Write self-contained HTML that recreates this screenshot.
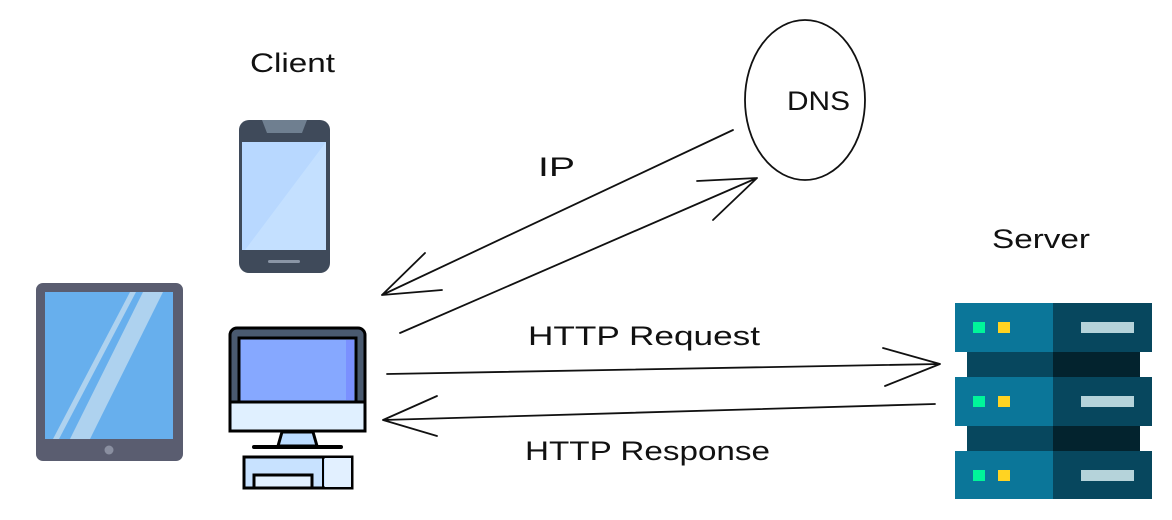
<!DOCTYPE html>
<html><head><meta charset="utf-8"><style>
html,body{margin:0;padding:0;background:#fff;}
svg{display:block}
text{font-family:"Liberation Sans",sans-serif;fill:#111;font-size:27px;}
</style></head><body>
<svg width="1172" height="520" viewBox="0 0 1172 520" xmlns="http://www.w3.org/2000/svg">
<rect width="1172" height="520" fill="#fff"/>
<text x="250" y="72" textLength="85" lengthAdjust="spacingAndGlyphs">Client</text>
<text x="787" y="110" textLength="63" lengthAdjust="spacingAndGlyphs">DNS</text>
<text x="538" y="176" textLength="37" lengthAdjust="spacingAndGlyphs">IP</text>
<text x="992" y="248" textLength="98" lengthAdjust="spacingAndGlyphs">Server</text>
<text x="528" y="345" textLength="232" lengthAdjust="spacingAndGlyphs">HTTP Request</text>
<text x="525" y="460" textLength="245" lengthAdjust="spacingAndGlyphs">HTTP Response</text>
<ellipse cx="805" cy="100" rx="60" ry="80" fill="none" stroke="#111" stroke-width="1.8"/>
<g stroke="#111" stroke-width="1.8" fill="none" stroke-linecap="round">
<path d="M733 130 L382 295 M382 295 L425 253 M382 295 L442 290"/>
<path d="M400 333 L757 178 M757 178 L697 181 M757 178 L713 220"/>
<path d="M387 374 L940 364 M940 364 L883 348 M940 364 L885 386"/>
<path d="M935 404 L383 420 M383 420 L437 396 M383 420 L437 436"/>
</g>
<rect x="36" y="283" width="147" height="178" rx="7" fill="#5a5d70"/>
<rect x="45" y="292" width="128" height="147" fill="#67afed"/>
<polygon points="130,292 136,292 59,439 53,439" fill="#aed2ef"/>
<polygon points="143,292 163,292 90,439 70,439" fill="#aed2ef"/>
<circle cx="109" cy="450" r="4.5" fill="#8a8fa0"/>
<rect x="239" y="120" width="91" height="153" rx="10" fill="#3f4a5a"/>
<polygon points="262,120 307,120 302,133 267,133" fill="#6f7f90"/>
<rect x="242" y="142" width="84" height="108" fill="#b8d8ff"/>
<polygon points="326,142 326,250 245,250" fill="#c4e0ff"/>
<rect x="268" y="260" width="32" height="3" rx="1.5" fill="#8a95a5"/>
<rect x="230" y="328" width="135" height="103" rx="7" fill="#4a5a70" stroke="#000" stroke-width="3"/>
<rect x="230" y="402" width="135" height="29" fill="#e0f0ff" stroke="#000" stroke-width="3"/>
<rect x="239" y="338" width="117" height="64" fill="#86a8ff" stroke="#000" stroke-width="3"/>
<rect x="346" y="340" width="8" height="60" fill="#7a90ff"/>
<polygon points="282,432 313,432 317,446 278,446" fill="#bcdcff" stroke="#000" stroke-width="3"/>
<line x1="254" y1="447" x2="341" y2="447" stroke="#000" stroke-width="4" stroke-linecap="round"/>
<rect x="244" y="457" width="108" height="31" fill="#c8e2ff" stroke="#000" stroke-width="3"/>
<rect x="325" y="458" width="26" height="29" fill="#e2f0ff"/>
<line x1="323" y1="457" x2="323" y2="488" stroke="#000" stroke-width="2"/>
<rect x="254" y="475" width="58" height="13" fill="#e2f0ff" stroke="#000" stroke-width="3"/>
<g>
<rect x="967" y="352" width="86" height="25" fill="#07475e"/>
<rect x="1053" y="352" width="87" height="25" fill="#03232e"/>
<rect x="967" y="426" width="86" height="25" fill="#07475e"/>
<rect x="1053" y="426" width="87" height="25" fill="#03232e"/>
<rect x="955" y="303" width="98" height="49" fill="#0b7699"/>
<rect x="1053" y="303" width="99" height="49" fill="#07475e"/>
<rect x="955" y="377" width="98" height="49" fill="#0b7699"/>
<rect x="1053" y="377" width="99" height="49" fill="#07475e"/>
<rect x="955" y="451" width="98" height="48" fill="#0b7699"/>
<rect x="1053" y="451" width="99" height="48" fill="#07475e"/>
<g fill="#00f59a"><rect x="973" y="322" width="12" height="11"/><rect x="973" y="396" width="12" height="11"/><rect x="973" y="470" width="12" height="11"/></g>
<g fill="#ffd322"><rect x="998" y="322" width="12" height="11"/><rect x="998" y="396" width="12" height="11"/><rect x="998" y="470" width="12" height="11"/></g>
<g fill="#b5d3da"><rect x="1081" y="322" width="53" height="11"/><rect x="1081" y="396" width="53" height="11"/><rect x="1081" y="470" width="53" height="11"/></g>
</g>
</svg>
</body></html>
